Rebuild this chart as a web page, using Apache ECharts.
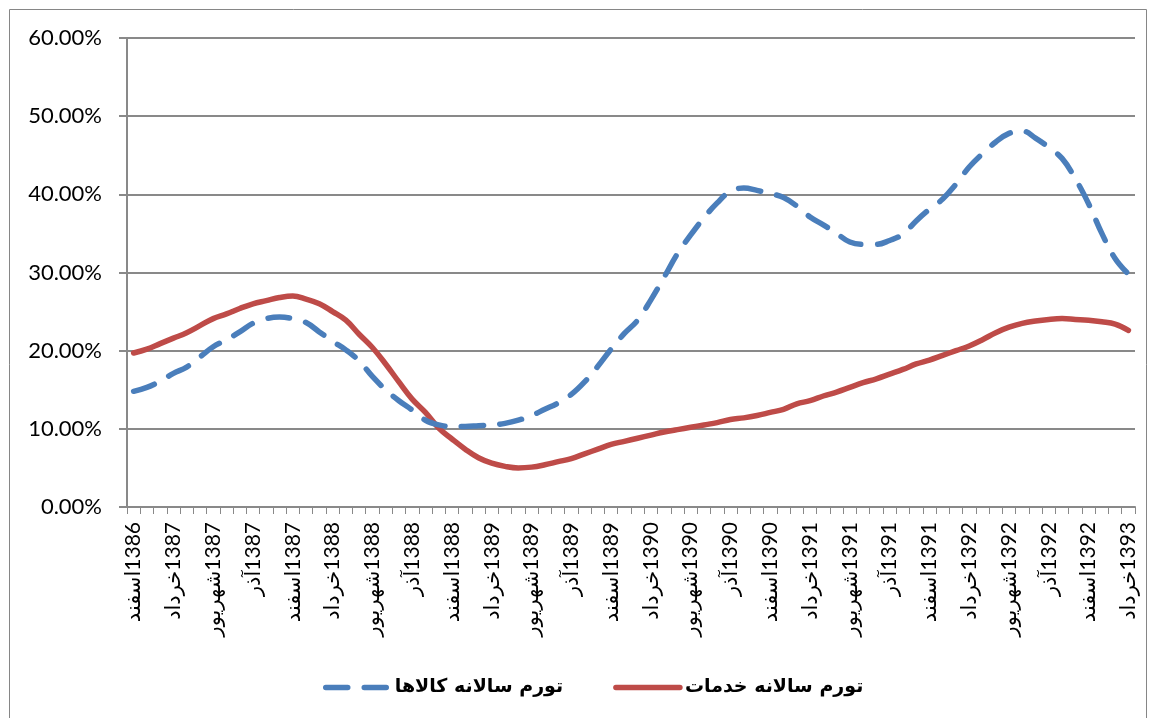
<!DOCTYPE html>
<html>
<head>
<meta charset="utf-8">
<script src="https://cdn.jsdelivr.net/npm/echarts@6/dist/echarts.min.js"></script>
<style>
  html, body { margin: 0; padding: 0; background: #ffffff; }
  #chart { width: 1150px; height: 718px; }
</style>
</head>
<body>
<div id="chart"></div>
<script>
// Monthly categories from Esfand 1386 to Khordad 1393
const monthNames = ['فروردین', 'اردیبهشت', 'خرداد', 'تیر', 'مرداد', 'شهریور', 'مهر', 'آبان', 'آذر', 'دی', 'بهمن', 'اسفند'];
const startYear = 1386;
const startMonthIndex = 11; // اسفند
const monthCount = 76;

const categories = [];
for (let k = 0; k < monthCount; k++) {
  const m = startMonthIndex + k;
  categories.push({ year: String(startYear + Math.floor(m / 12)), month: monthNames[m % 12] });
}
const categoryLabels = categories.map(c => c.year + c.month);

// Annual inflation of goods (%)
const goodsInflation = [
  14.8, 15.3, 16.1, 17.1, 17.9, 19.2, 20.5, 21.4, 22.4, 23.5,
  24.1, 24.3, 24.1, 23.6, 22.4, 21.2, 20.1, 18.7, 16.7, 15.0,
  13.6, 12.4, 11.1, 10.5, 10.3, 10.3, 10.4, 10.5, 10.7, 11.1,
  11.7, 12.5, 13.3, 14.4, 16.0, 18.0, 20.2, 22.2, 23.9, 26.5,
  29.4, 32.4, 34.8, 37.0, 38.9, 40.4, 40.8, 40.5, 40.1, 39.6,
  38.5, 37.1, 36.1, 35.0, 33.9, 33.6, 33.6, 34.1, 34.9, 36.6,
  38.1, 39.4, 41.3, 43.5, 45.2, 46.7, 47.8, 48.1, 47.2, 46.0,
  44.6, 42.0, 38.8, 35.0, 31.8, 29.8
];

// Annual inflation of services (%)
const servicesInflation = [
  19.7, 20.2, 20.9, 21.6, 22.3, 23.2, 24.1, 24.7, 25.4, 26.0,
  26.4, 26.8, 27.0, 26.6, 26.0, 25.0, 23.9, 22.1, 20.4, 18.3,
  16.0, 13.8, 12.1, 10.1, 8.7, 7.4, 6.3, 5.6, 5.2, 5.0,
  5.1, 5.4, 5.8, 6.2, 6.8, 7.4, 8.0, 8.4, 8.8, 9.2,
  9.6, 9.9, 10.2, 10.5, 10.8, 11.2, 11.4, 11.7, 12.1, 12.5,
  13.2, 13.6, 14.2, 14.7, 15.3, 15.9, 16.4, 17.0, 17.6, 18.3,
  18.8, 19.4, 20.0, 20.6, 21.4, 22.3, 23.0, 23.5, 23.8, 24.0,
  24.1, 24.0, 23.9, 23.7, 23.4, 22.6
];

const seriesNames = ['تورم سالانه کالاها', 'تورم سالانه خدمات'];
const yTicks = { min: 0, max: 60, step: 10 };

const gridGray = '#898989';
const latinFont = "Lato, 'DejaVu Sans', sans-serif";

const chart = echarts.init(document.getElementById('chart'), null, { renderer: 'canvas' });

chart.setOption({
  backgroundColor: '#ffffff',
  animation: false,
  graphic: [{
    type: 'rect',
    silent: true,
    shape: { x: 9.5, y: 9.5, width: 1137, height: 730 },
    style: { fill: null, stroke: '#868686', lineWidth: 1 }
  }],
  grid: { left: 127, right: 15, top: 38, bottom: 211, containLabel: false },
  legend: {
    data: seriesNames,
    left: 318,
    top: 673,
    itemWidth: 64,
    itemHeight: 14,
    itemGap: 50,
    itemStyle: { opacity: 0 },
    lineStyle: { width: 5.5, cap: 'round' },
    textStyle: {
      fontFamily: "'DejaVu Sans', sans-serif",
      fontWeight: 'bold',
      fontSize: 19,
      color: '#000000'
    }
  },
  xAxis: {
    type: 'category',
    data: categoryLabels,
    boundaryGap: true,
    axisLine: { show: true, lineStyle: { color: gridGray, width: 2 } },
    axisTick: { show: true, interval: 0, length: 7, lineStyle: { color: gridGray, width: 1 } },
    axisLabel: {
      interval: 2,
      rotate: 90,
      margin: 15,
      fontFamily: latinFont,
      fontSize: 21,
      color: '#000000',
      // month name on the left, year on the right of the rotated line
      formatter: (value, idx) => categories[idx].month + '\u200E' + categories[idx].year
    },
    splitLine: { show: false }
  },
  yAxis: {
    type: 'value',
    min: yTicks.min,
    max: yTicks.max,
    interval: yTicks.step,
    axisLine: { show: true, lineStyle: { color: gridGray, width: 2 } },
    axisTick: { show: true, length: 8, lineStyle: { color: gridGray, width: 2 } },
    axisLabel: {
      margin: 25,
      fontFamily: latinFont,
      fontSize: 22,
      color: '#000000',
      formatter: v => v.toFixed(2) + '%'
    },
    splitLine: { show: true, lineStyle: { color: gridGray, width: 2 } }
  },
  series: [
    {
      name: seriesNames[0],
      type: 'line',
      data: goodsInflation,
      smooth: 0.4,
      symbol: 'none',
      z: 3,
      itemStyle: { color: '#4A7EBB' },
      lineStyle: { color: '#4A7EBB', width: 5.5, type: [22, 16.5], cap: 'round', join: 'round' }
    },
    {
      name: seriesNames[1],
      type: 'line',
      data: servicesInflation,
      smooth: 0.4,
      symbol: 'none',
      z: 2,
      itemStyle: { color: '#BE4B48' },
      lineStyle: { color: '#BE4B48', width: 5.5, cap: 'round', join: 'round' }
    }
  ]
});
</script>
</body>
</html>
